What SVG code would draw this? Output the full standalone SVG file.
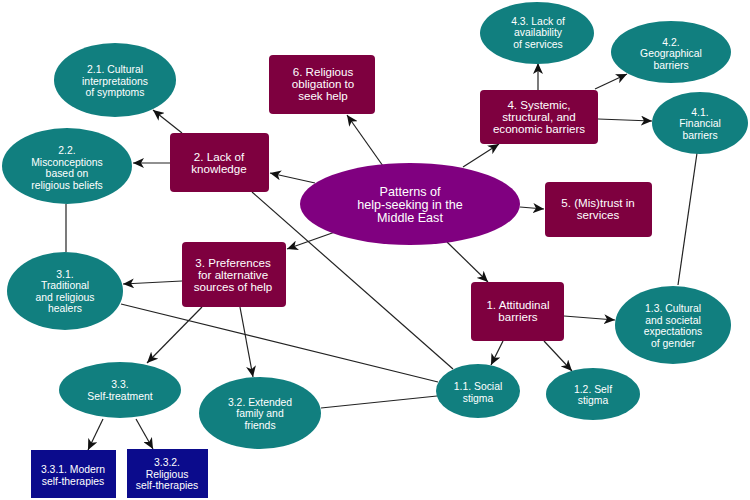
<svg xmlns="http://www.w3.org/2000/svg" width="750" height="500" viewBox="0 0 750 500">
<defs>
<marker id="arr" viewBox="0 0 11 10" refX="11" refY="5" markerWidth="11" markerHeight="10" markerUnits="userSpaceOnUse" orient="auto">
<path d="M0,0 L11,5 L0,10 L3,5 z" fill="#111"/>
</marker>
<style>
.teal{fill:#117f7f}
.mar{fill:#7e003f}
.navy{fill:#0b0b8c}
.ctr{fill:#800080}
text{font-family:"Liberation Sans",Arial,Helvetica,sans-serif;fill:#fff;text-anchor:middle}
.s{font-size:10.4px}
.m{font-size:11.6px}
.l{font-size:12.6px}
.c line{stroke:#222;stroke-width:1.2}
.c .a{marker-end:url(#arr)}
</style>
</defs>
<rect width="750" height="500" fill="#fff"/>
<g class="c" id="connectors">
<line class="a" x1="383" y1="166" x2="347" y2="115"/>
<line class="a" x1="315" y1="183" x2="270" y2="173"/>
<line class="a" x1="335" y1="232" x2="287" y2="249"/>
<line class="a" x1="463" y1="167" x2="499" y2="144"/>
<line class="a" x1="520" y1="207" x2="544" y2="209"/>
<line class="a" x1="447" y1="242" x2="488" y2="282"/>
<line class="a" x1="182" y1="133" x2="153" y2="110"/>
<line class="a" x1="170" y1="163" x2="133" y2="163"/>
<line x1="252" y1="192" x2="453" y2="369"/>
<line x1="66" y1="204" x2="66" y2="252"/>
<line class="a" x1="182" y1="281" x2="123" y2="284"/>
<line x1="121" y1="304" x2="438" y2="382"/>
<line class="a" x1="202" y1="307" x2="147" y2="363"/>
<line class="a" x1="240" y1="307" x2="253" y2="377"/>
<line x1="321" y1="408" x2="437" y2="396"/>
<line class="a" x1="103" y1="419" x2="88" y2="450"/>
<line class="a" x1="136" y1="419" x2="153" y2="449"/>
<line class="a" x1="538" y1="90" x2="538" y2="63"/>
<line class="a" x1="595" y1="89" x2="627" y2="74"/>
<line class="a" x1="598" y1="119" x2="652" y2="121"/>
<line x1="697" y1="153" x2="678" y2="285"/>
<line class="a" x1="564" y1="316" x2="615" y2="320"/>
<line class="a" x1="503" y1="341" x2="491" y2="365"/>
<line class="a" x1="544" y1="341" x2="572" y2="371"/>
</g>
<g id="center">
<ellipse class="ctr" cx="410" cy="204" rx="110" ry="41"/>
<text class="l" x="410" y="196">Patterns of</text>
<text class="l" x="410" y="209">help-seeking in the</text>
<text class="l" x="410" y="222">Middle East</text>
</g>
<g id="n6">
<rect class="mar" x="269" y="55" width="106" height="59" rx="4"/>
<text class="m" x="323" y="76">6. Religious</text>
<text class="m" x="323" y="88">obligation to</text>
<text class="m" x="323" y="100">seek help</text>
</g>
<g id="n2">
<rect class="mar" x="170" y="133" width="99" height="59" rx="4"/>
<text class="m" x="219" y="161">2. Lack of</text>
<text class="m" x="219" y="173">knowledge</text>
</g>
<g id="n2_1">
<ellipse class="teal" cx="115" cy="80" rx="61" ry="37"/>
<text class="s" x="115" y="73">2.1. Cultural</text>
<text class="s" x="115" y="84.5">interpretations</text>
<text class="s" x="115" y="96">of symptoms</text>
</g>
<g id="n2_2">
<ellipse class="teal" cx="67" cy="166" rx="65" ry="38"/>
<text class="s" x="67" y="154">2.2.</text>
<text class="s" x="67" y="165.5">Misconceptions</text>
<text class="s" x="67" y="177">based on</text>
<text class="s" x="67" y="188.5">religious beliefs</text>
</g>
<g id="n4">
<rect class="mar" x="480" y="90" width="118" height="54" rx="4"/>
<text class="m" x="539" y="109">4. Systemic,</text>
<text class="m" x="539" y="121">structural, and</text>
<text class="m" x="539" y="133">economic barriers</text>
</g>
<g id="n4_3">
<ellipse class="teal" cx="537" cy="33" rx="57" ry="31"/>
<text class="s" x="538" y="24.5">4.3. Lack of</text>
<text class="s" x="538" y="36">availability</text>
<text class="s" x="538" y="47.5">of services</text>
</g>
<g id="n4_2">
<ellipse class="teal" cx="671" cy="52" rx="60" ry="31"/>
<text class="s" x="671" y="45.5">4.2.</text>
<text class="s" x="671" y="57">Geographical</text>
<text class="s" x="671" y="68.5">barriers</text>
</g>
<g id="n4_1">
<ellipse class="teal" cx="700" cy="123" rx="48" ry="31"/>
<text class="s" x="700" y="115.5">4.1.</text>
<text class="s" x="700" y="127">Financial</text>
<text class="s" x="700" y="138.5">barriers</text>
</g>
<g id="n5">
<rect class="mar" x="545" y="182" width="107" height="55" rx="4"/>
<text class="m" x="598" y="207">5. (Mis)trust in</text>
<text class="m" x="598" y="219">services</text>
</g>
<g id="n3">
<rect class="mar" x="182" y="242" width="104" height="65" rx="4"/>
<text class="m" x="233" y="267">3. Preferences</text>
<text class="m" x="233" y="279">for alternative</text>
<text class="m" x="233" y="291">sources of help</text>
</g>
<g id="n3_1">
<ellipse class="teal" cx="65" cy="291" rx="58" ry="39"/>
<text class="s" x="65" y="277.5">3.1.</text>
<text class="s" x="65" y="289">Traditional</text>
<text class="s" x="65" y="300.5">and religious</text>
<text class="s" x="65" y="312">healers</text>
</g>
<g id="n3_3">
<ellipse class="teal" cx="120" cy="390" rx="61" ry="28"/>
<text class="s" x="120" y="388">3.3.</text>
<text class="s" x="120" y="400">Self-treatment</text>
</g>
<g id="n3_2">
<ellipse class="teal" cx="260" cy="413" rx="61" ry="36"/>
<text class="s" x="260" y="405.5">3.2. Extended</text>
<text class="s" x="260" y="417">family and</text>
<text class="s" x="260" y="428.5">friends</text>
</g>
<g id="n3_3_1">
<rect class="navy" x="31" y="450" width="85" height="48"/>
<text class="s" x="73" y="473">3.3.1. Modern</text>
<text class="s" x="73" y="484.5">self-therapies</text>
</g>
<g id="n3_3_2">
<rect class="navy" x="127" y="449" width="81" height="49"/>
<text class="s" x="167" y="466">3.3.2.</text>
<text class="s" x="167" y="477.5">Religious</text>
<text class="s" x="167" y="489">self-therapies</text>
</g>
<g id="n1">
<rect class="mar" x="471" y="282" width="93" height="59" rx="4"/>
<text class="m" x="518" y="309">1. Attitudinal</text>
<text class="m" x="518" y="321">barriers</text>
</g>
<g id="n1_3">
<ellipse class="teal" cx="673" cy="325" rx="58" ry="39"/>
<text class="s" x="673" y="312">1.3. Cultural</text>
<text class="s" x="673" y="323.5">and societal</text>
<text class="s" x="673" y="335">expectations</text>
<text class="s" x="673" y="346.5">of gender</text>
</g>
<g id="n1_1">
<ellipse class="teal" cx="478" cy="391" rx="42" ry="27"/>
<text class="s" x="478" y="390">1.1. Social</text>
<text class="s" x="478" y="401.5">stigma</text>
</g>
<g id="n1_2">
<ellipse class="teal" cx="593" cy="394" rx="47" ry="26"/>
<text class="s" x="593" y="392.5">1.2. Self</text>
<text class="s" x="593" y="404">stigma</text>
</g>
</svg>
